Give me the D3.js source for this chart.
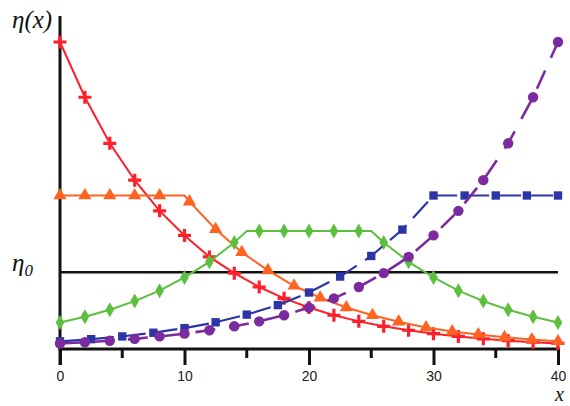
<!DOCTYPE html>
<html>
<head>
<meta charset="utf-8">
<script src="https://cdnjs.cloudflare.com/ajax/libs/d3/7.8.5/d3.min.js"></script>
<style>
  html, body { margin: 0; padding: 0; background: #fff; }
  svg { display: block; }
</style>
</head>
<body>
<div id="chart"></div>
<script>
// values (eta in units where eta(0) of red = 1)
const xTicks = [0, 10, 20, 30, 40];
const xMinorTicks = [5, 15, 25, 35];
const eta0 = 0.25;

const redX = [0, 2, 4, 6, 8, 10, 12, 14, 16, 18, 20, 22, 24, 26, 28, 30, 32, 34, 36, 38, 40];
const redY = [1.0, 0.82, 0.67, 0.55, 0.45, 0.37, 0.30, 0.247, 0.202, 0.165, 0.135, 0.11, 0.09, 0.074, 0.061, 0.05, 0.041, 0.033, 0.027, 0.022, 0.018];

const orangeX = [0, 2, 4, 6, 8, 10.4, 12.5, 14.6, 16.7, 18.8, 20.9, 23.0, 25.1, 27.2, 29.4, 31.5, 33.6, 35.7, 37.9, 40];
const orangeY = [0.5, 0.5, 0.5, 0.5, 0.5, 0.48, 0.39, 0.315, 0.256, 0.206, 0.167, 0.135, 0.11, 0.089, 0.07, 0.057, 0.047, 0.038, 0.031, 0.025];
const orangeCorner = [[10, 0.5]];

const greenX = [0, 2, 4, 6, 8, 10, 12, 14, 16, 18, 20, 22, 24, 26, 28, 30, 32, 34, 36, 38, 40];
const greenY = [0.086, 0.105, 0.128, 0.156, 0.19, 0.233, 0.284, 0.347, 0.384, 0.384, 0.384, 0.384, 0.384, 0.347, 0.284, 0.233, 0.19, 0.156, 0.128, 0.105, 0.086];
const greenCorner = [[15, 0.384], [25, 0.384]];

const blueX = [0, 2.5, 5, 7.5, 10, 12.5, 15, 17.5, 20, 22.5, 25, 27.5, 30, 32.5, 35, 37.5, 40];
const blueY = [0.025, 0.032, 0.041, 0.053, 0.068, 0.087, 0.112, 0.143, 0.184, 0.236, 0.303, 0.389, 0.5, 0.5, 0.5, 0.5, 0.5];

const purpleX = [0, 2, 4, 6, 8, 10, 12, 14, 16, 18, 20, 22, 24, 26, 28, 30, 32, 34, 36, 38, 40];
const purpleY = [0.018, 0.022, 0.027, 0.033, 0.041, 0.05, 0.061, 0.074, 0.09, 0.11, 0.135, 0.165, 0.202, 0.247, 0.30, 0.37, 0.45, 0.55, 0.67, 0.82, 1.0];

const W = 570, H = 406;
const svg = d3.select('#chart').append('svg')
  .attr('width', W).attr('height', H)
  .attr('viewBox', `0 0 ${W} ${H}`);

const x = d3.scaleLinear().domain([0, 40]).range([60, 558]);
const y = d3.scaleLinear().domain([0, 1]).range([349, 42]);

const serif = '"Liberation Serif", "Times New Roman", serif';
const sans = '"Liberation Sans", Arial, sans-serif';

// axes
svg.append('line')
  .attr('x1', x(0)).attr('x2', x(0)).attr('y1', 16).attr('y2', 365)
  .style('stroke', '#111').style('stroke-width', 3);
svg.append('line')
  .attr('x1', x(0) - 1.5).attr('x2', x(40) + 2).attr('y1', y(0)).attr('y2', y(0))
  .style('stroke', '#111').style('stroke-width', 3);

const xAxis = d3.axisBottom(x).tickValues(xTicks).tickSize(16).tickSizeOuter(0).tickPadding(6);
const gx = svg.append('g').attr('transform', `translate(0,${y(0)})`).call(xAxis);
gx.select('.domain').remove();
gx.selectAll('.tick line').style('stroke', '#111').style('stroke-width', 3);
gx.selectAll('.tick text')
  .style('font-family', sans).style('font-size', '14px').style('fill', '#222');

svg.append('g').selectAll('line')
  .data(xMinorTicks)
  .enter().append('line')
  .attr('x1', d => x(d)).attr('x2', d => x(d))
  .attr('y1', y(0)).attr('y2', y(0) + 9)
  .style('stroke', '#111').style('stroke-width', 3);

// eta0 reference line
svg.append('line')
  .attr('x1', x(0)).attr('x2', x(40)).attr('y1', y(eta0)).attr('y2', y(eta0))
  .style('stroke', '#111').style('stroke-width', 2.5);

// labels
svg.append('text')
  .attr('x', 12).attr('y', 28)
  .style('font-family', serif).style('font-style', 'italic').style('font-size', '25px').style('fill', '#111')
  .text('η(x)');
const eta0Label = svg.append('text')
  .attr('x', 12).attr('y', 271)
  .style('font-family', serif).style('font-style', 'italic').style('font-size', '25px').style('fill', '#111');
eta0Label.append('tspan').text('η');
eta0Label.append('tspan').attr('dy', 5).style('font-size', '17px').text('0');
svg.append('text')
  .attr('x', 555).attr('y', 401)
  .style('font-family', serif).style('font-style', 'italic').style('font-size', '20px').style('fill', '#111')
  .text('x');

const line = d3.line().x(d => x(d[0])).y(d => y(d[1]));

function drawSeries(xs, ys, corners, opts) {
  const pts = xs.map((v, i) => [v, ys[i]]);
  const linePts = pts.concat(corners).sort((a, b) => a[0] - b[0]);
  svg.append('path')
    .attr('d', line(linePts))
    .style('fill', 'none')
    .style('stroke', opts.color)
    .style('stroke-width', opts.width)
    .style('stroke-dasharray', opts.dash || null);
  const g = svg.append('g');
  if (opts.marker === 'plus') {
    g.selectAll('path').data(pts).enter().append('path')
      .attr('transform', d => `translate(${x(d[0])},${y(d[1])})`)
      .attr('d', 'M-6.5,0H6.5M0,-6.5V6.5')
      .style('stroke', opts.color).style('stroke-width', 3.2).style('fill', 'none');
  } else {
    g.selectAll('path').data(pts).enter().append('path')
      .attr('transform', d => `translate(${x(d[0])},${y(d[1])})`)
      .attr('d', d3.symbol().type(opts.marker).size(opts.size))
      .style('fill', opts.color);
  }
}

drawSeries(redX, redY, [], { color: '#ff1f2a', width: 2, marker: 'plus' });
drawSeries(orangeX, orangeY, orangeCorner, { color: '#ff6322', width: 2, marker: d3.symbolTriangle, size: 75 });
drawSeries(greenX, greenY, greenCorner, { color: '#5cbf3e', width: 2, marker: d3.symbolDiamond, size: 65 });
drawSeries(blueX, blueY, [], { color: '#2b35a6', width: 2.2, marker: d3.symbolSquare, size: 70, dash: '22,10' });
drawSeries(purpleX, purpleY, [], { color: '#7b2b9e', width: 2.6, marker: d3.symbolCircle, size: 85, dash: '20,14' });
</script>
</body>
</html>
